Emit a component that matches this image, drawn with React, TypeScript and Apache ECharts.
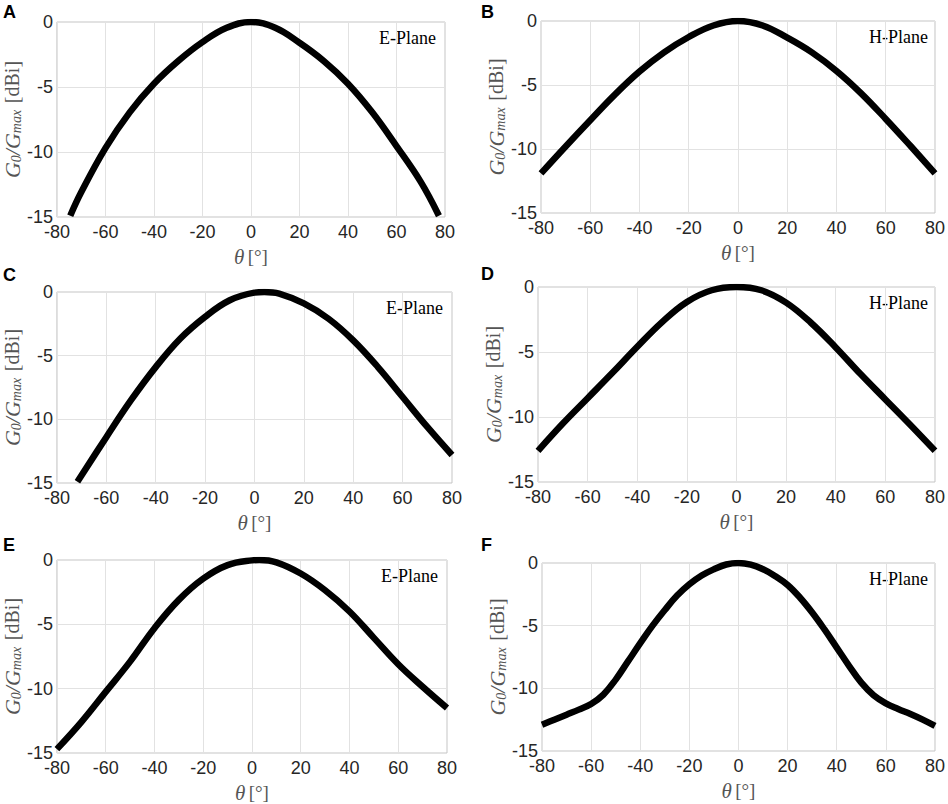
import React, { useEffect, useRef } from "react";
import * as echarts from "echarts";

// ---- Data ----
const xTicks = [-80, -60, -40, -20, 0, 20, 40, 60, 80];
const yTicks = [-15, -10, -5, 0];

const thetaA = [-74.5, -70, -60, -50, -40, -30, -20, -10, 0, 10, 20, 30, 40, 50, 60, 70, 77.5];
const gainA = [-14.9, -13.1, -9.7, -6.95, -4.75, -3.0, -1.55, -0.45, 0, -0.45, -1.6, -3.0, -4.75, -6.95, -9.55, -12.3, -14.9];

const thetaB = [-80, -70, -60, -50, -40, -30, -20, -10, 0, 10, 20, 30, 40, 50, 60, 70, 80];
const gainB = [-11.9, -9.8, -7.75, -5.75, -3.95, -2.45, -1.25, -0.35, 0, -0.35, -1.3, -2.45, -3.9, -5.65, -7.65, -9.75, -11.9];

const thetaC = [-71.7, -60, -50, -40, -30, -20, -10, 0, 4, 10, 20, 30, 40, 50, 60, 70, 80];
const gainC = [-14.9, -11.4, -8.5, -5.9, -3.65, -1.95, -0.65, -0.05, 0, -0.13, -0.9, -2.1, -3.8, -5.9, -8.25, -10.6, -12.8];

const thetaD = [-80, -70, -60, -50, -40, -30, -20, -10, 0, 10, 20, 30, 40, 50, 60, 70, 80];
const gainD = [-12.6, -10.5, -8.55, -6.6, -4.6, -2.7, -1.15, -0.25, 0, -0.25, -1.2, -2.75, -4.65, -6.7, -8.65, -10.6, -12.6];

const thetaE = [-80, -70, -60, -50, -40, -30, -20, -10, 0, 3, 10, 20, 30, 40, 50, 60, 70, 80];
const gainE = [-14.7, -12.6, -10.25, -7.9, -5.3, -3.1, -1.45, -0.4, -0.03, 0, -0.18, -1.05, -2.35, -4.0, -6.05, -8.1, -9.85, -11.5];

const thetaF = [-80, -75, -70, -65, -60, -55, -50, -45, -40, -35, -30, -25, -20, -15, -10, -5, 0, 5, 10, 15, 20, 25, 30, 35, 40, 45, 50, 55, 60, 65, 70, 75, 80];
const gainF = [-12.9, -12.5, -12.1, -11.7, -11.25, -10.5, -9.3, -7.85, -6.4, -5.0, -3.75, -2.6, -1.7, -1.0, -0.5, -0.12, 0, -0.13, -0.5, -1.05, -1.75, -2.75, -3.95, -5.3, -6.75, -8.2, -9.55, -10.55, -11.2, -11.65, -12.05, -12.5, -13.0];

const panelLetters = ["A", "B", "C", "D", "E", "F"];
const planeLabels = ["E-Plane", "H-Plane", "E-Plane", "H-Plane", "E-Plane", "H-Plane"];
const thetas = [thetaA, thetaB, thetaC, thetaD, thetaE, thetaF];
const gains = [gainA, gainB, gainC, gainD, gainE, gainF];

// ---- Layout ----
const grids = [
  { left: 55, top: 22, width: 390, height: 195 },
  { left: 541, top: 21, width: 396, height: 192 },
  { left: 52, top: 292, width: 400, height: 191 },
  { left: 538, top: 287, width: 399, height: 195 },
  { left: 51, top: 560, width: 396, height: 193 },
  { left: 542, top: 563, width: 395, height: 188 },
];
const letterPos = [
  { x: 3, y: 3 },
  { x: 481, y: 3 },
  { x: 3, y: 266 },
  { x: 481, y: 265 },
  { x: 3, y: 536 },
  { x: 481, y: 536 },
];

export default function App() {
  const ref = useRef<HTMLDivElement>(null);

  useEffect(() => {
    document.body.style.margin = "0";
    if (!ref.current) return;
    const chart = echarts.init(ref.current, undefined, { renderer: "svg" });

    const labelColor = "#262626";
    const nameColor = "#555555";

    const option: any = {
      animation: false,
      backgroundColor: "#ffffff",
      grid: grids.map((g) => ({
        ...g,
        show: true,
        borderColor: "#c4c4c4",
        borderWidth: 1,
        backgroundColor: "#ffffff",
        containLabel: false,
      })),
      xAxis: grids.map((_, i) => ({
        type: "value",
        gridIndex: i,
        min: xTicks[0],
        max: xTicks[xTicks.length - 1],
        interval: 20,
        axisLine: { show: false },
        axisTick: { show: false },
        splitLine: { show: true, lineStyle: { color: "#e2e2e2", width: 1 } },
        axisLabel: {
          color: labelColor,
          fontFamily: "Liberation Sans",
          fontSize: 18,
          lineHeight: 13,
          margin: 8,
        },
        name: "{i|θ} {n|[°]}",
        nameLocation: "middle",
        nameGap: 29,
        nameTextStyle: {
          rich: {
            i: { fontFamily: "Liberation Serif", fontStyle: "italic", fontSize: 21, color: nameColor },
            n: { fontFamily: "Liberation Serif", fontSize: 19, color: nameColor },
          },
        },
      })),
      yAxis: grids.map((_, i) => ({
        type: "value",
        gridIndex: i,
        min: yTicks[0],
        max: yTicks[yTicks.length - 1],
        interval: 5,
        axisLine: { show: false },
        axisTick: { show: false },
        splitLine: { show: true, lineStyle: { color: "#e2e2e2", width: 1 } },
        axisLabel: {
          color: labelColor,
          fontFamily: "Liberation Sans",
          fontSize: 18,
          lineHeight: 13,
          margin: 4,
        },
        name: "{i|G}{s|0}{i|/G}{s|max}  {n|[dBi]}",
        nameLocation: "middle",
        nameGap: 30,
        nameTextStyle: {
          rich: {
            i: { fontFamily: "Liberation Serif", fontStyle: "italic", fontSize: 22, color: nameColor, lineHeight: 22 },
            s: {
              fontFamily: "Liberation Serif",
              fontStyle: "italic",
              fontSize: 14,
              color: nameColor,
              lineHeight: 14,
              verticalAlign: "bottom",
            },
            n: { fontFamily: "Liberation Serif", fontSize: 20, color: nameColor, lineHeight: 22 },
          },
        },
      })),
      series: grids.map((_, i) => ({
        type: "line",
        xAxisIndex: i,
        yAxisIndex: i,
        data: thetas[i].map((t, k) => [t, gains[i][k]]),
        smooth: 0.4,
        showSymbol: false,
        symbol: "none",
        lineStyle: { color: "#000000", width: 6.5, cap: "butt", join: "round" },
      })),
      graphic: [
        ...grids.map((g, i) => ({
          type: "text",
          x: g.left + g.width - 9,
          y: g.top + 7,
          style: {
            text: planeLabels[i],
            fontFamily: "Liberation Serif",
            fontSize: 18,
            fill: "#000000",
            textAlign: "right",
            textVerticalAlign: "top",
          },
        })),
        ...letterPos.map((p, i) => ({
          type: "text",
          x: p.x,
          y: p.y,
          style: {
            text: panelLetters[i],
            fontFamily: "Liberation Sans",
            fontWeight: "bold",
            fontSize: 18,
            fill: "#000000",
          },
        })),
      ],
    };

    chart.setOption(option);
    return () => chart.dispose();
  }, []);

  return <div ref={ref} style={{ width: 948, height: 804 }} />;
}
